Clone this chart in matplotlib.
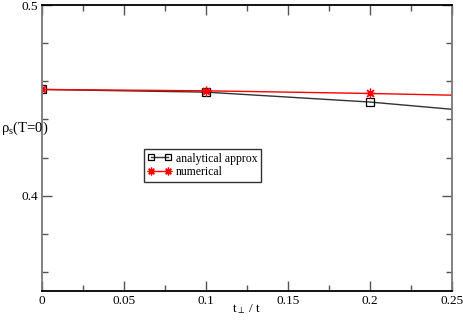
import matplotlib.pyplot as plt
from matplotlib.ticker import MultipleLocator

plt.rcParams['font.family'] = ['Liberation Serif', 'DejaVu Serif']
plt.rcParams['mathtext.fontset'] = 'stix'

# datos
x = [0.0, 0.1, 0.2, 0.3]
analitico = [0.4557, 0.4543, 0.4491, 0.4415]
numerico = [0.4557, 0.4550, 0.4536, 0.4518]

fig = plt.figure(figsize=(4.63, 3.21), dpi=100)
ax = fig.add_axes([42/463, 1 - 291/321, 410/463, 286/321])

ax.plot(x, analitico, color='#333333', lw=1.0, marker='s', ms=5.5,
        mfc='none', mec='black', mew=0.9, label='analytical approx')
ax.plot(x, numerico, color='red', lw=1.0, marker=(8, 2, 0), ms=7,
        mec='red', mew=0.9, label='numerical')

ax.set_xlim(0, 0.25)
ax.set_ylim(0.35, 0.5)
ax.xaxis.set_major_locator(MultipleLocator(0.05))
ax.xaxis.set_minor_locator(MultipleLocator(0.025))
ax.yaxis.set_major_locator(MultipleLocator(0.1))
ax.yaxis.set_minor_locator(MultipleLocator(0.02))
ax.set_xticks([0, 0.05, 0.1, 0.15, 0.2, 0.25])
ax.set_xticklabels(['0', '0.05', '0.1', '0.15', '0.2', '0.25'])
ax.set_yticks([0.4, 0.5])
ax.set_yticklabels(['0.4', '0.5'])

ax.tick_params(which='both', direction='in', top=True, right=True,
               labelsize=9.5, color='#555555', width=1.0)
ax.tick_params(which='major', length=7, pad=3)
ax.tick_params(which='minor', length=4)
for lado in ['left', 'right']:
    ax.spines[lado].set_color('#777777')
    ax.spines[lado].set_linewidth(1.3)
for lado in ['top', 'bottom']:
    ax.spines[lado].set_color('black')
    ax.spines[lado].set_linewidth(1.3)

fig.text(247/463, 1 - 309/321, r'$\mathregular{t_{\perp}}$ / t', fontsize=9.5,
         ha='center', va='center')
fig.text(0.002, 1 - 128/321, r'$\mathregular{\rho_s}$(T=0)', fontsize=10.5,
         ha='left', va='center')

leg = ax.legend(loc='upper left', bbox_to_anchor=(102/410, 1 - 144/286),
                fontsize=8.5, frameon=True, fancybox=False, borderpad=0.3,
                handlelength=2.0, handletextpad=0.4, labelspacing=0.15,
                borderaxespad=0, numpoints=2, markerscale=0.8)
leg.get_frame().set_edgecolor('black')
leg.get_frame().set_linewidth(1.0)

fig.savefig('out.png', dpi=100)
